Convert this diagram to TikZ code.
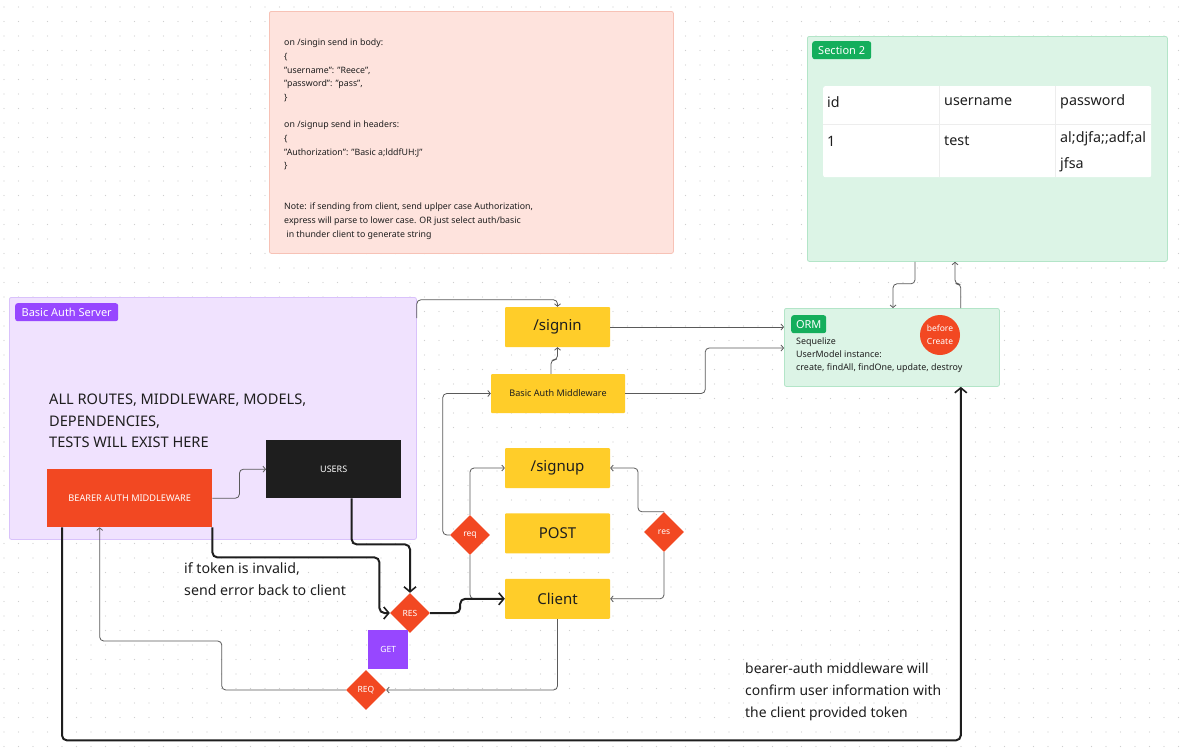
\documentclass[tikz,border=0pt]{standalone}
\usepackage{fontspec}
\setmainfont{Noto Sans}
\usetikzlibrary{shapes.geometric, arrows.meta, positioning}
\definecolor{notefill}{HTML}{FEE3DD}
\definecolor{noteline}{HTML}{F7C2B6}
\definecolor{greenfill}{HTML}{DCF4E6}
\definecolor{greenline}{HTML}{B3E5C8}
\definecolor{greenbadge}{HTML}{14AE5C}
\definecolor{purplefill}{HTML}{F0E2FE}
\definecolor{purpleline}{HTML}{D9C2FB}
\definecolor{purplebadge}{HTML}{9747FF}
\definecolor{redbox}{HTML}{F24822}
\definecolor{yellowbox}{HTML}{FFCD29}
\definecolor{darkbox}{HTML}{1E1E1E}
\definecolor{linegray}{HTML}{5A5A5A}
\definecolor{rulegray}{HTML}{EDEDED}
\definecolor{dotgray}{HTML}{CFCFCF}
\tikzset{
  area/.style={rectangle, rounded corners=2pt, line width=0.8pt, anchor=north west},
  badge/.style={rectangle, rounded corners=2.5pt, text=white, anchor=north west, inner sep=0pt, minimum height=18pt, font=\fontsize{11}{13}\selectfont},
  route/.style={rectangle, rounded corners=1pt, fill=yellowbox, minimum width=105pt, minimum height=40pt, text=darkbox, font=\fontsize{15}{18}\selectfont},
  block/.style={rectangle, anchor=north west, text=white, font=\fontsize{9}{11}\selectfont},
  gate/.style={diamond, aspect=1, fill=redbox, minimum width=40pt, minimum height=40pt, inner sep=0pt, text=white, font=\fontsize{8.5}{10}\selectfont},
  remark/.style={anchor=north west, align=left, inner sep=0pt, text=darkbox},
  cell/.style={anchor=west, inner sep=0pt, text=darkbox, font=\fontsize{14.3}{22}\selectfont},
  arrow/.style={draw=linegray, line width=0.8pt, -{Straight Barb[length=2.5pt,width=6pt]}, rounded corners=4pt},
  thinline/.style={draw=linegray, line width=0.8pt, rounded corners=4pt},
  bigarrow/.style={draw=darkbox, line width=2pt, -{Straight Barb[length=5pt,width=12pt,line width=1.6pt]}, rounded corners=5pt}
}

\begin{document}
\begin{tikzpicture}[x=1pt, y=-1pt]
\useasboundingbox (0,0) rectangle (1180,753);
\fill[white] (0,0) rectangle (1180,753);
% canvas dots
\foreach \i in {0,...,81}
  \foreach \j in {0,...,51}
    \fill[dotgray] (4+\i*14.5, 7+\j*14.5) circle (0.55pt);

% request notes
\node (note) [area, fill=notefill, draw=noteline, minimum width=404pt, minimum height=242pt] at (269,11) {};
\node (notetext) [remark, font=\fontsize{8.8}{13.67}\selectfont] at (284,39) {on /singin send in body:\\
{\{}\\
"username": "Reece",\\
"password": "pass",\\
{\}}\\[13.67pt]
on /signup send in headers:\\
{\{}\\
"Authorization": "Basic a;lddfUH:J"\\
{\}}\\[27.34pt]
Note: if sending from client, send uplper case Authorization,\\
express will parse to lower case. OR just select auth/basic\\
\ in thunder client to generate string};

% database section
\node (sec2) [area, fill=greenfill, draw=greenline, minimum width=360pt, minimum height=225pt] at (807,36) {};
\node (sec2badge) [badge, fill=greenbadge, minimum width=59pt] at (812,41) {Section 2};
\node (usertable) [rectangle, rounded corners=2pt, fill=white, anchor=north west, minimum width=328pt, minimum height=91pt] at (823,86) {};
\draw[rulegray, line width=0.8pt] (939,86) -- (939,177) (1055,86) -- (1055,177) (823,124) -- (1151,124);
\node (cid) [cell] at (827,102) {id};
\node (cuser) [cell] at (944,102) {username};
\node (cpass) [cell] at (1060,102) {password};
\node (cone) [cell] at (827,141) {1};
\node (ctest) [cell] at (944,141) {test};
\node (chash) [cell, anchor=north west, align=left] at (1060,131) {al;djfa;;adf;al\\[4pt]jfsa};

% orm
\node (orm) [area, fill=greenfill, draw=greenline, minimum width=215pt, minimum height=78pt] at (784,308) {};
\node (ormbadge) [badge, fill=greenbadge, minimum width=35pt] at (791,315) {ORM};
\node (ormtext) [remark, font=\fontsize{8.9}{13}\selectfont] at (796,338) {Sequelize\\UserModel instance:\\create, findAll, findOne, update, destroy};
\node (beforecreate) [circle, fill=redbox, minimum size=40pt, inner sep=0pt, text=white, align=center, font=\fontsize{8.5}{13}\selectfont] at (940,335) {before\\Create};

% server
\node (server) [area, fill=purplefill, draw=purpleline, minimum width=407pt, minimum height=242pt] at (9,297) {};
\node (serverbadge) [badge, fill=purplebadge, minimum width=103pt] at (15,303) {Basic Auth Server};
\node (servertext) [remark, font=\fontsize{14.6}{21.5}\selectfont] at (49,394) {ALL ROUTES, MIDDLEWARE, MODELS,\\DEPENDENCIES,\\TESTS WILL EXIST HERE};
\node (bearer) [block, fill=redbox, minimum width=165pt, minimum height=58pt] at (47,469) {};
\node at (bearer.center) [text=white, font=\fontsize{9.2}{11}\selectfont] {BEARER AUTH MIDDLEWARE};
\node (users) [block, fill=darkbox, minimum width=135pt, minimum height=58pt] at (266,440) {};
\node at (users.center) [text=white, font=\fontsize{9}{11}\selectfont] {USERS};

% routes
\node (signin) [route] at (557.5,327) {/signin};
\node (bam) [route, minimum width=134pt, minimum height=39pt, font=\fontsize{9.1}{11}\selectfont] at (558,393.5) {Basic Auth Middleware};
\node (signup) [route] at (557.5,468) {/signup};
\node (post) [route, below=25pt of signup] {POST};
\node (client) [route, below=25pt of post] {Client};
\node (reqsignup) [gate] at (470,535) {req};
\node (ressignup) [gate] at (664,532) {res};
\node (resbearer) [gate] at (410,613) {RES};
\node (getbox) [block, fill=purplebadge, minimum width=40pt, minimum height=39pt] at (368,630) {};
\node at (getbox.center) [text=white, font=\fontsize{8.5}{10}\selectfont] {GET};
\node (reqbearer) [gate] at (366,690) {REQ};

\node (tokentext) [remark, font=\fontsize{14.2}{22}\selectfont] at (184,562) {if token is invalid,\\send error back to client};
\node (confirmtext) [remark, font=\fontsize{13.9}{22}\selectfont] at (745,663) {bearer-auth middleware will\\confirm user information with\\the client provided token};

% connectors
\draw [arrow] ([xshift=108pt]sec2.south west) -- ++(0,22) -| ([xshift=109pt]orm.north west);
\draw [arrow] ([xshift=-39pt]orm.north east) -- ++(0,-24) -| ([xshift=148pt]sec2.south west);
\draw [arrow] ([yshift=-21pt]server.north east) |- ([yshift=7pt]signin.north) -- (signin.north);
\draw [arrow] ([xshift=-7pt]bam.north) -- ++(0,-14) -| (signin.south);
\draw [arrow] (signin.east) -- (signin.east -| orm.west);
\draw [arrow] (bam.east) -- ++(80,0) |- ([yshift=-40pt]orm.north west);
\draw [arrow] (reqsignup.west) -- ++(-7,0) |- (bam.west);
\draw [arrow] (reqsignup.north) |- (signup.west);
\draw [thinline] (reqsignup.south) |- ([xshift=-20pt]client.west);
\draw [arrow] (ressignup.north) -- ++(-26,0) |- (signup.east);
\draw [arrow] (ressignup.south) |- (client.east);
\draw [arrow] (client.south) |- (reqbearer.east);
\draw [arrow] (reqbearer.west) -- ++(-124,0) -- ++(0,-49) -| ([xshift=-30pt]bearer.south);
\draw [arrow] (bearer.east) -- ++(27,0) |- (users.west);

\draw [bigarrow] (resbearer.east) -- ++(30,0) |- (client.west);
\draw [bigarrow] (bearer.south east) -- ++(0,30) -- ++(167,0) |- (resbearer.west);
\draw [bigarrow] ([xshift=18pt]users.south) -- ++(0,46) -| (resbearer.north);
\draw [bigarrow] ([xshift=15pt]bearer.south west) -- ++(0,213) -| ([xshift=-39pt]orm.south east);
\end{tikzpicture}
\end{document}
